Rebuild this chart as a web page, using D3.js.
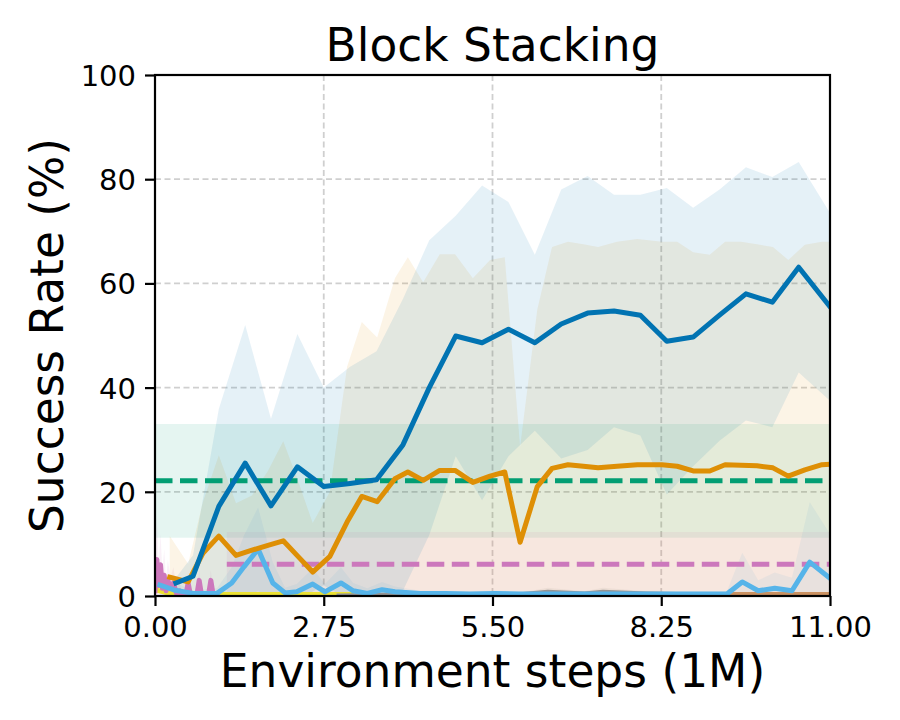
<!DOCTYPE html>
<html>
<head>
<meta charset="utf-8">
<script src="https://cdn.jsdelivr.net/npm/d3@7"></script>
<style>
  html, body { margin: 0; padding: 0; background: #ffffff; }
  svg { display: block; }
  text { font-family: "DejaVu Sans", sans-serif; fill: #000; }
</style>
</head>
<body>
<svg id="chart" width="900" height="720"></svg>
<script>
// ---------------- DATA ----------------
const title = "Block Stacking";
const xLabel = "Environment steps (1M)";
const yLabel = "Success Rate (%)";

const xTicks = [0, 2.75, 5.5, 8.25, 11];
const xTickLabels = ["0.00", "2.75", "5.50", "8.25", "11.00"];
const yTicks = [0, 20, 40, 60, 80, 100];
const yTickLabels = ["0", "20", "40", "60", "80", "100"];

// main method (dark blue)
const blueX    = [0.34, 0.62, 1.04, 1.47, 1.89, 2.32, 2.75, 3.18, 3.61, 4.04, 4.47, 4.90, 5.33, 5.76, 6.19, 6.62, 7.05, 7.48, 7.91, 8.34, 8.77, 9.20, 9.63, 10.06, 10.49, 11.0];
const blueMean = [2.5, 3.8, 17.2, 25.5, 17.3, 24.8, 21.0, 21.6, 22.3, 29.0, 40.0, 49.9, 48.6, 51.2, 48.6, 52.2, 54.3, 54.7, 53.9, 48.9, 49.7, 53.9, 58.0, 56.4, 63.1, 55.5];
const blueStd  = [1.0, 4.0, 18.7, 26.5, 16.7, 25.5, 19.0, 22.4, 24.7, 28.0, 28.3, 23.1, 30.2, 24.4, 16.9, 25.8, 26.3, 22.3, 23.1, 29.4, 24.8, 24.1, 24.3, 24.0, 20.2, 18.0];

// orange method
const orangeX    = [0.24, 0.54, 0.78, 1.04, 1.32, 1.58, 1.84, 2.09, 2.33, 2.57, 2.85, 3.13, 3.37, 3.62, 3.91, 4.12, 4.37, 4.64, 4.89, 5.18, 5.46, 5.70, 5.95, 6.23, 6.47, 6.73, 6.98, 7.22, 7.53, 7.86, 8.26, 8.51, 8.77, 9.04, 9.29, 9.55, 9.81, 10.07, 10.32, 10.59, 10.87, 11.0];
const orangeMean = [3.6, 2.7, 8.2, 11.5, 7.8, 8.8, 9.7, 10.6, 7.6, 4.6, 7.6, 14.2, 19.1, 18.1, 22.5, 23.8, 22.2, 24.1, 24.1, 21.8, 23.0, 23.8, 10.3, 21.0, 24.5, 25.2, 24.9, 24.6, 24.9, 25.2, 25.2, 24.9, 24.0, 24.0, 25.2, 25.1, 25.0, 24.6, 23.0, 24.2, 25.2, 25.3];
const orangeStd  = [7.9, 3.5, 9.8, 15.5, 10.0, 10.5, 14.3, 19.1, 14.5, 9.4, 12.4, 29.8, 33.5, 31.5, 38.5, 41.2, 38.0, 41.5, 41.5, 39.2, 41.5, 41.2, 18.3, 34.0, 42.5, 42.8, 42.6, 42.4, 43.1, 43.3, 42.8, 43.1, 42.0, 41.5, 42.8, 42.9, 42.5, 42.4, 41.5, 43.2, 42.8, 42.7];

// light blue method
const lightBlueX    = [0.08, 0.33, 0.62, 1.01, 1.25, 1.45, 1.68, 1.92, 2.12, 2.31, 2.57, 2.77, 3.03, 3.23, 3.46, 3.70, 3.91, 4.32, 4.73, 5.13, 5.54, 5.95, 6.36, 6.76, 7.17, 7.58, 7.99, 8.39, 8.80, 9.32, 9.57, 9.83, 10.10, 10.38, 10.67, 11.0];
const lightBlueMean = [2.1, 1.1, 0.5, 0.5, 2.5, 5.6, 9.0, 2.5, 0.6, 0.8, 2.3, 0.8, 2.5, 1.0, 0.5, 1.2, 0.8, 0.5, 0.5, 0.4, 0.5, 0.4, 0.4, 0.4, 0.4, 0.4, 0.4, 0.4, 0.4, 0.4, 2.7, 1.0, 1.5, 1.0, 6.5, 3.4];
const lightBlueStd  = [2.0, 1.5, 0.5, 1.0, 3.0, 6.0, 8.0, 4.0, 1.0, 1.5, 3.0, 1.5, 3.0, 1.5, 1.0, 1.5, 1.0, 0.5, 0.5, 0.5, 0.5, 0.5, 0.5, 0.5, 0.5, 0.5, 0.5, 0.5, 0.5, 0.5, 5.6, 2.0, 3.0, 2.5, 11.5, 8.5];

// pink method (short early run)
const pinkX    = [0.0, 0.03, 0.06, 0.09, 0.12, 0.15, 0.18, 0.21, 0.25, 0.30, 0.35, 0.40, 0.45, 0.50, 0.54, 0.58, 0.63, 0.68, 0.72, 0.76, 0.82, 0.87, 0.91, 0.95, 1.0];
const pinkMean = [1.0, 7.0, 2.0, 6.0, 1.5, 4.0, 1.0, 3.0, 1.5, 2.5, 0.5, 1.0, 0.0, 0.0, 2.5, 0.0, 0.0, 0.0, 3.0, 0.0, 0.0, 0.0, 3.0, 0.0, 0.0];
const pinkStd  = [2.0, 8.5, 4.0, 6.0, 3.0, 5.0, 2.0, 4.0, 2.0, 3.0, 1.0, 1.5, 0.0, 0.0, 2.0, 0.0, 0.0, 0.0, 2.0, 0.0, 0.0, 0.0, 2.0, 0.0, 0.0];

// yellow method
const yellowX    = [0.0, 0.2, 0.5, 1.0, 1.5, 2.0, 2.5, 3.2];
const yellowMean = [1.2, 0.6, 0.3, 0.3, 0.3, 0.3, 0.3, 0.3];

// gray method
const grayX    = [3.0, 3.5, 4.0, 4.5, 5.0, 5.5, 6.0, 6.4, 7.0, 7.3, 8.0, 8.5, 9.0, 9.5, 10.0, 10.5, 11.0];
const grayMean = [0.0, 0.1, 0.2, 0.3, 0.2, 0.3, 0.3, 0.7, 0.4, 0.7, 0.4, 0.3, 0.3, 0.2, 0.2, 0.3, 0.3];
const grayStd  = [0.0, 0.2, 0.3, 0.4, 0.3, 0.4, 0.4, 0.9, 0.5, 0.9, 0.5, 0.4, 0.3, 0.3, 0.3, 0.4, 0.4];

// brown method
const brownX    = [9.3, 9.8, 10.3, 10.8, 11.0];
const brownMean = [0.3, 0.3, 0.3, 0.3, 0.3];

// reference baselines (horizontal)
const greenRefRange = [0, 11];
const greenRefMean = 22.1;
const greenRefStd = 10.9;
const pinkRefRange = [1.17, 11];
const pinkRefMean = 6.1;
const pinkRefStd = 6.2;

const colors = {
  blue: "#0173b2", orange: "#de8f05", green: "#029e73", pink: "#cc78bc",
  lightBlue: "#56b4e9", yellow: "#ece133", gray: "#949494", brown: "#ca9161"
};

// ---------------- CHART ----------------
const svg = d3.select("#chart");
const L = 155, R = 830, T = 75, B = 596;

const x = d3.scaleLinear().domain([0, 11]).range([L, R]);
const y = d3.scaleLinear().domain([0, 100]).range([B, T]);

svg.append("defs").append("clipPath").attr("id", "plotClip")
  .append("rect").attr("x", L).attr("y", T).attr("width", R - L).attr("height", B - T);

// grid
const grid = svg.append("g");
grid.selectAll(".gx").data(xTicks).join("line")
  .attr("x1", d => x(d)).attr("x2", d => x(d)).attr("y1", T).attr("y2", B)
  .attr("stroke", "#cfcfcf").attr("stroke-width", 1.8).attr("stroke-dasharray", "6,3.5");
grid.selectAll(".gy").data(yTicks).join("line")
  .attr("x1", L).attr("x2", R).attr("y1", d => y(d)).attr("y2", d => y(d))
  .attr("stroke", "#cfcfcf").attr("stroke-width", 1.8).attr("stroke-dasharray", "6,3.5");

const plot = svg.append("g").attr("clip-path", "url(#plotClip)");

function rows(xs, means, stds) {
  return xs.map((v, i) => ({ x: v, m: means[i], s: stds ? stds[i] : 0 }));
}
const area = d3.area().x(d => x(d.x)).y0(d => y(d.m - d.s)).y1(d => y(d.m + d.s));
const line = d3.line().x(d => x(d.x)).y(d => y(d.m));

// reference bands
const refs = [
  { r: greenRefRange, m: greenRefMean, s: greenRefStd, c: colors.green },
  { r: pinkRefRange, m: pinkRefMean, s: pinkRefStd, c: colors.pink }
];
refs.forEach(ref => {
  const d = ref.r.map(v => ({ x: v, m: ref.m, s: ref.s }));
  plot.append("path").attr("d", area(d)).attr("fill", ref.c).attr("fill-opacity", 0.1);
});

// series bands
const series = [
  { d: rows(yellowX, yellowMean), c: colors.yellow },
  { d: rows(grayX, grayMean, grayStd), c: colors.gray },
  { d: rows(brownX, brownMean), c: colors.brown },
  { d: rows(pinkX, pinkMean, pinkStd), c: colors.pink },
  { d: rows(lightBlueX, lightBlueMean, lightBlueStd), c: colors.lightBlue },
  { d: rows(orangeX, orangeMean, orangeStd), c: colors.orange },
  { d: rows(blueX, blueMean, blueStd), c: colors.blue }
];
series.forEach(s => {
  plot.append("path").attr("d", area(s.d)).attr("fill", s.c).attr("fill-opacity", 0.1);
});

// reference dashed lines
refs.forEach(ref => {
  const d = ref.r.map(v => ({ x: v, m: ref.m }));
  plot.append("path").attr("d", line(d)).attr("fill", "none")
    .attr("stroke", ref.c).attr("stroke-width", 5).attr("stroke-dasharray", "17.5,7.5");
});

// series lines
series.forEach(s => {
  plot.append("path").attr("d", line(s.d)).attr("fill", "none")
    .attr("stroke", s.c).attr("stroke-width", 5)
    .attr("stroke-linejoin", "round").attr("stroke-linecap", "square");
});

// frame
svg.append("rect").attr("x", L).attr("y", T).attr("width", R - L).attr("height", B - T)
  .attr("fill", "none").attr("stroke", "#000").attr("stroke-width", 2.2);

// axes
const xAxis = svg.append("g").attr("transform", `translate(0,${B})`)
  .call(d3.axisBottom(x).tickValues(xTicks).tickFormat((d, i) => xTickLabels[i])
    .tickSize(10).tickPadding(10).tickSizeOuter(0));
const yAxis = svg.append("g").attr("transform", `translate(${L},0)`)
  .call(d3.axisLeft(y).tickValues(yTicks).tickFormat((d, i) => yTickLabels[i])
    .tickSize(10).tickPadding(9).tickSizeOuter(0));
[xAxis, yAxis].forEach(g => {
  g.select(".domain").remove();
  g.selectAll(".tick line").attr("stroke", "#000").attr("stroke-width", 2.2);
  g.selectAll(".tick text").attr("font-family", "DejaVu Sans").attr("font-size", 29).attr("fill", "#000");
});
xAxis.selectAll(".tick text").attr("dy", "0.74em");
yAxis.selectAll(".tick text").attr("dy", "0.36em");

// titles
svg.append("text").attr("x", (L + R) / 2).attr("y", 61).attr("text-anchor", "middle")
  .attr("font-size", 45.5).text(title);
svg.append("text").attr("x", (L + R) / 2).attr("y", 687).attr("text-anchor", "middle")
  .attr("font-size", 45.5).text(xLabel);
svg.append("text").attr("transform", `translate(63,${(T + B) / 2}) rotate(-90)`)
  .attr("text-anchor", "middle").attr("font-size", 45.5).text(yLabel);
</script>
</body>
</html>
